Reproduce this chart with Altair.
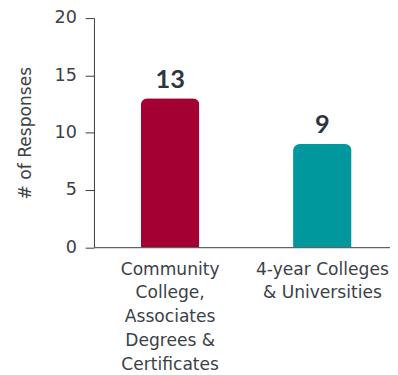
import altair as alt
import pandas as pd

categories = ["Community|College,|Associates|Degrees &|Certificates", "4-year Colleges|& Universities"]
responses = [13, 9]
colors = ["#a50034", "#00979d"]

df = pd.DataFrame({"category": categories, "responses": responses, "color": colors})

FONT = "DejaVu Sans"
TXT = "#3b4148"

base = alt.Chart(df).encode(
    x=alt.X("category:N", sort=categories,
            scale=alt.Scale(paddingInner=0.615, paddingOuter=0.28, align=0.55),
            axis=alt.Axis(title=None, labelAngle=0, ticks=False,
                          labelExpr="split(datum.label, '|')",
                          labelFont=FONT, labelFontSize=17.5, labelColor=TXT,
                          labelLineHeight=24.5, labelPadding=27.5, labelBaseline="alphabetic",
                          domainColor="#333a40", labelLimit=250)),
    y=alt.Y("responses:Q", scale=alt.Scale(domain=[0, 20]),
            axis=alt.Axis(title="# of Responses", values=[0, 5, 10, 15, 20], grid=False,
                          titleFont=FONT, titleFontSize=17.5, titleFontWeight="normal",
                          titleColor=TXT, titlePadding=20,
                          labelFont=FONT, labelFontSize=18, labelColor=TXT,
                          labelPadding=9, tickSize=9, tickColor="#333a40",
                          domainColor="#333a40")),
)

bars = base.mark_bar(cornerRadiusTopLeft=7, cornerRadiusTopRight=7).encode(
    color=alt.Color("color:N", scale=None)
)

text = base.mark_text(dy=-11, baseline="alphabetic", fontSize=26, fontWeight="bold",
                      font="Lato", color="#2d3640").encode(
    text="responses:Q"
)

chart = (bars + text).properties(
    width=303, height=234.5,
    autosize=alt.AutoSizeParams(type="none"),
    padding={"top": 6, "left": 88, "right": 0, "bottom": 128},
).configure_view(stroke=None)

chart.save("out.html", embed_options={"renderer": "svg", "actions": False})
